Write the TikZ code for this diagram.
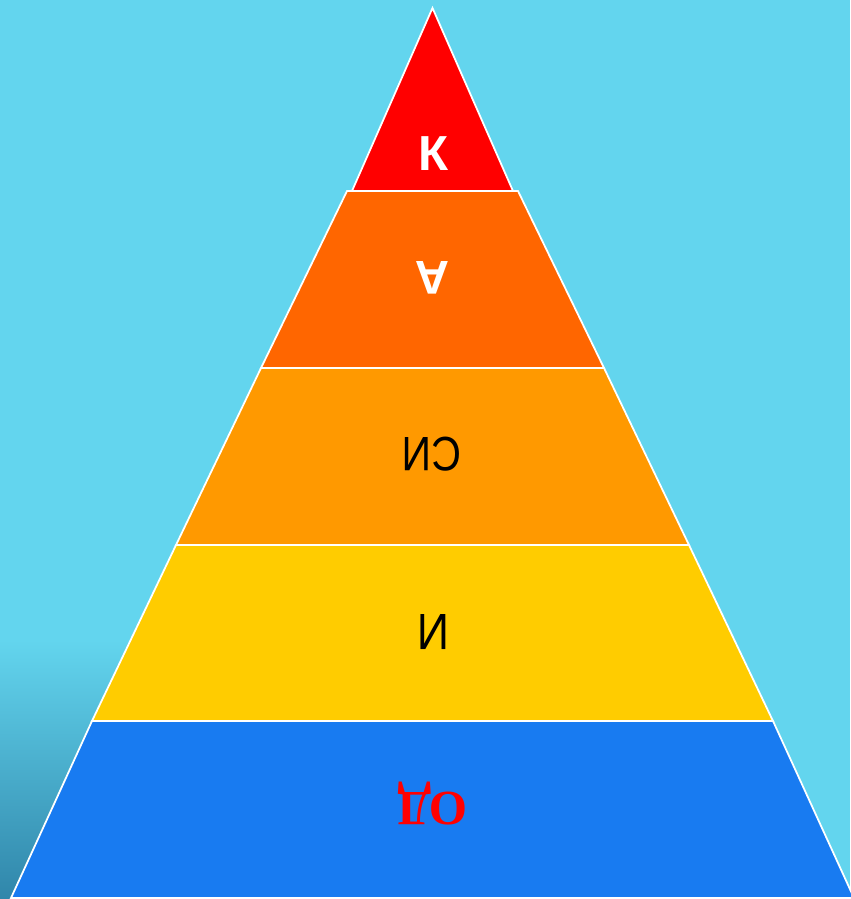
\documentclass[tikz,border=0pt]{standalone}
\usepackage{fontspec}
\setmainfont{Liberation Sans}
\newfontfamily\cyrserif{Liberation Serif}
\usetikzlibrary{positioning}

\definecolor{skycyan}{RGB}{99,213,238}
\definecolor{deepteal}{RGB}{48,134,170}
\definecolor{tipred}{RGB}{255,0,0}
\definecolor{bandorange}{RGB}{255,102,0}
\definecolor{bandamber}{RGB}{255,153,0}
\definecolor{bandyellow}{RGB}{255,204,0}
\definecolor{bandblue}{RGB}{24,123,241}

\begin{document}
\begin{tikzpicture}[x=0.02cm, y=-0.02cm,
  layer/.style={draw=white, line width=1pt, line join=miter},
  lbl/.style={inner sep=0pt, text depth=0pt, text height=#1},
  flip/.style={rotate=180}
]

  % ========== BACKGROUND ==========
  \useasboundingbox (0,0) rectangle (850,899);
  \fill[skycyan] (0,0) rectangle (850,899);
  \shade[top color=skycyan, bottom color=deepteal]
    (0,640) -- (131,640) -- (10,899) -- (0,899) -- cycle;

  % ========== PYRAMID LAYERS ==========
  \filldraw[layer, fill=tipred]     (432.5,8) -- (513,191) -- (352,191) -- cycle;
  \filldraw[layer, fill=bandorange] (347,191) -- (518,191) -- (604,368) -- (261,368) -- cycle;
  \filldraw[layer, fill=bandamber]  (261,368) -- (604,368) -- (689,545) -- (176,545) -- cycle;
  \filldraw[layer, fill=bandyellow] (176,545) -- (689,545) -- (773,721) -- (92,721) -- cycle;
  \filldraw[layer, fill=bandblue]   (92,721) -- (773,721) -- (854,898) -- (11,898) -- cycle;

  % ========== LABELS ==========
  \node[lbl=20pt, text=white, font=\bfseries\fontsize{28}{30}\selectfont] (tipLbl) at (434,153) {К};
  \node[lbl=19.3pt, flip, text=white, font=\bfseries\fontsize{27}{29}\selectfont] (aLbl) at (432,278) {А};
  \node[lbl=19.7pt, flip, font=\fontsize{27.5}{29}\selectfont] (siLbl) at (432,455) {\scalebox{0.85}[1]{СИ}};
  \node[lbl=20.8pt, flip, font=\fontsize{29}{31}\selectfont] (iLbl) at (433,633) {\scalebox{0.88}[1]{И}};
  \node[lbl=18.5pt, flip, text=tipred,
        font=\cyrserif\bfseries\fontsize{28}{30}\selectfont] (odLbl) at (432.5,808.5) {ОД};

\end{tikzpicture}
\end{document}
